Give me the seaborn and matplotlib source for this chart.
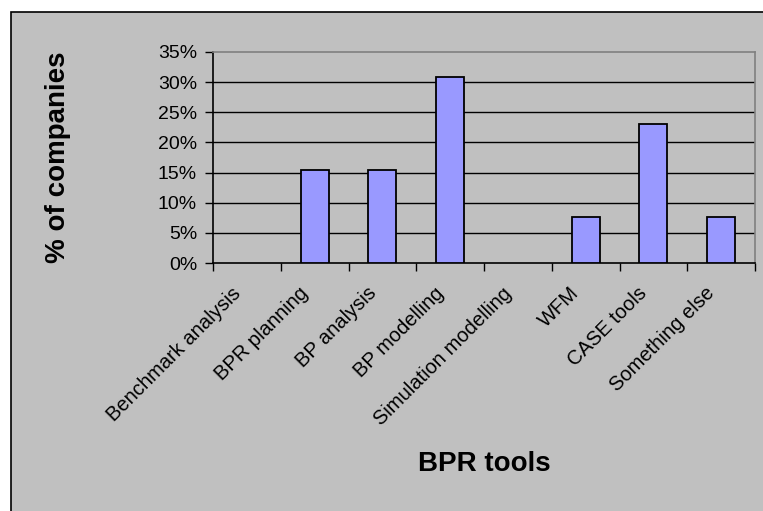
import matplotlib
matplotlib.use("Agg")
import matplotlib.pyplot as plt
import matplotlib.transforms as mtransforms
import seaborn as sns
import pandas as pd
from matplotlib.patches import Rectangle
from matplotlib.ticker import FuncFormatter, FixedLocator

categories = ["Benchmark analysis", "BPR planning", "BP analysis", "BP modelling",
              "Simulation modelling", "WFM", "CASE tools", "Something else"]
values = [0.0, 15.4, 15.4, 30.8, 0.0, 7.7, 23.1, 7.7]
y_ticks = [0, 5, 10, 15, 20, 25, 30, 35]

df = pd.DataFrame({"tool": categories, "pct": values})

sns.set_theme(style="white")
plt.rcParams["font.family"] = ["Liberation Sans", "DejaVu Sans"]
plt.rcParams["text.color"] = "black"
plt.rcParams["axes.labelcolor"] = "black"
plt.rcParams["xtick.color"] = "black"
plt.rcParams["ytick.color"] = "black"

W, H = 763, 511
fig = plt.figure(figsize=(W / 100, H / 100), dpi=100, facecolor="white")

# outer chart frame (gray, black border on left/top)
fig.patches.append(Rectangle((11 / W, -0.05), 1.1, 1 - 12 / H + 0.05,
                             transform=fig.transFigure, facecolor="#C0C0C0",
                             edgecolor="black", linewidth=1.2, zorder=-10))

ax = fig.add_axes([213 / W, 1 - 263 / H, (755 - 213) / W, (263 - 52) / H])
ax.set_facecolor("#C0C0C0")

sns.barplot(data=df, x="tool", y="pct", ax=ax, color="#9999FF", width=0.41,
            edgecolor="black", linewidth=1.3, saturation=1, zorder=3)
for p in ax.patches:
    if p.get_height() == 0:
        p.set_linewidth(0)

ax.set_ylim(0, 35)
ax.set_xlim(-0.5, len(categories) - 0.5)
ax.yaxis.set_major_locator(FixedLocator(y_ticks))
ax.yaxis.set_major_formatter(FuncFormatter(lambda v, p: f"{int(round(v))}%"))
for yv in y_ticks[1:-1]:
    ax.axhline(yv, color="black", linewidth=1.0, zorder=1)

for side in ["top", "right"]:
    ax.spines[side].set_color("#808080")
    ax.spines[side].set_linewidth(1.2)
for side in ["left", "bottom"]:
    ax.spines[side].set_color("black")
    ax.spines[side].set_linewidth(1.2)

ax.tick_params(axis="y", which="major", direction="out", length=6, width=1,
               color="black", labelsize=14, pad=5.5, left=True)
ax.set_xticks(range(len(categories)))
ax.set_xticklabels(categories, rotation=45, ha="right", va="top",
                   rotation_mode="anchor", fontsize=14.5)
ax.tick_params(axis="x", which="major", length=0, pad=14.8)
offset = mtransforms.ScaledTranslation(-16 / 100, 0, fig.dpi_scale_trans)
for lab in ax.get_xticklabels():
    lab.set_transform(lab.get_transform() + offset)
ax.set_xticks([i - 0.5 for i in range(len(categories) + 1)], minor=True)
ax.tick_params(axis="x", which="minor", direction="out", length=6, width=1,
               color="black", bottom=True)

ax.set_xlabel("")
ax.set_ylabel("")
fig.text(484 / W, 1 - 464 / H, "BPR tools", ha="center", va="center",
         fontsize=20, fontweight="bold", color="black")
fig.text(58 / W, 1 - 157 / H, "% of companies", ha="center", va="center",
         rotation=90, fontsize=20, fontweight="bold", color="black")

fig.savefig("out.png", dpi=100, facecolor=fig.get_facecolor())
